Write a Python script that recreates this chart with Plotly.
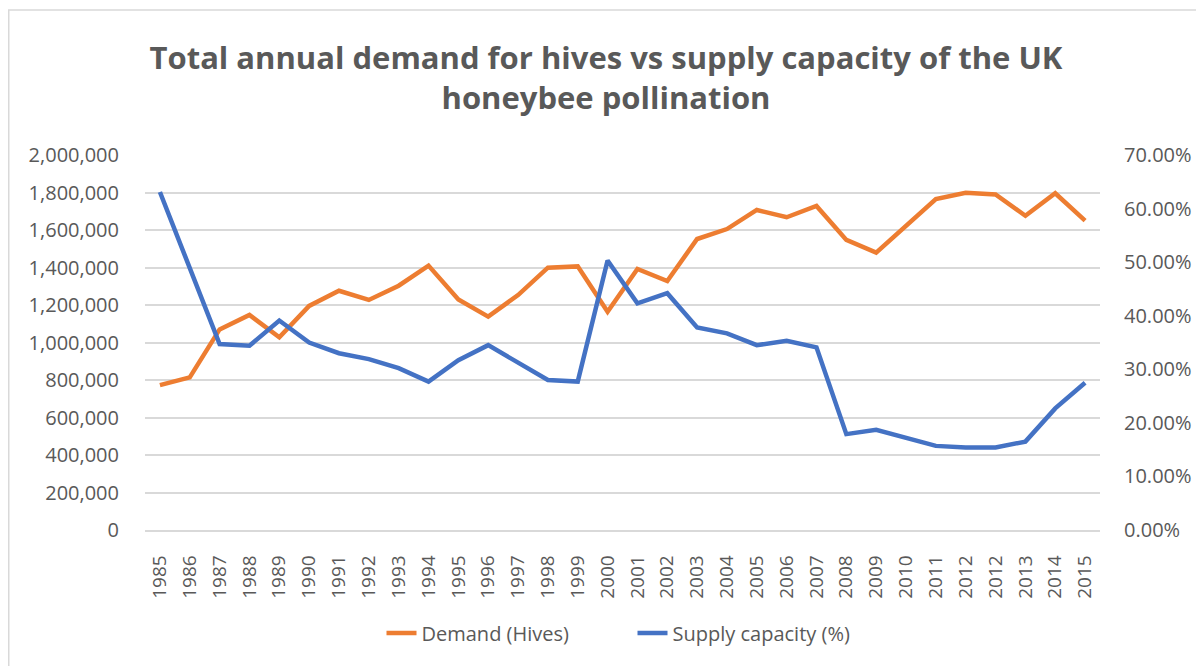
import plotly.graph_objects as go

years = ["1985", "1986", "1987", "1988", "1989", "1990", "1991", "1992", "1993", "1994",
         "1995", "1996", "1997", "1998", "1999", "2000", "2001", "2002", "2003", "2004",
         "2005", "2006", "2007", "2008", "2009", "2010", "2011", "2012", "2012", "2013",
         "2014", "2015"]
demand_hives = [773000, 814000, 1070000, 1147000, 1028000, 1195000, 1276000, 1227000, 1303000, 1410000,
                1230000, 1138000, 1253000, 1399000, 1406000, 1164000, 1392000, 1328000, 1552000, 1605000,
                1707000, 1668000, 1728000, 1547000, 1479000, 1621000, 1765000, 1799000, 1790000, 1676000,
                1796000, 1650000]
supply_capacity = [0.631, 0.489, 0.347, 0.344, 0.391, 0.350, 0.330, 0.319, 0.302, 0.277,
                   0.317, 0.345, 0.312, 0.280, 0.277, 0.503, 0.423, 0.442, 0.378, 0.367,
                   0.345, 0.353, 0.341, 0.179, 0.187, 0.171, 0.157, 0.154, 0.154, 0.165,
                   0.227, 0.275]
left_ticks = [0, 200000, 400000, 600000, 800000, 1000000, 1200000, 1400000, 1600000, 1800000, 2000000]
right_ticks = [0.0, 0.1, 0.2, 0.3, 0.4, 0.5, 0.6, 0.7]

x_pos = list(range(len(years)))
txt = "#595959"
grid = "#d9d9d9"

W, H = 1196, 658
ML, MR, MT, MB = 137, 104, 147, 136
PW, PH = W - ML - MR, H - MT - MB

fig = go.Figure()
fig.add_trace(go.Scatter(x=x_pos, y=demand_hives, mode="lines", name="Demand (Hives)",
                         line=dict(color="#ED7D31", width=4.5), yaxis="y"))
fig.add_trace(go.Scatter(x=x_pos, y=supply_capacity, mode="lines", name="Supply capacity (%)",
                         line=dict(color="#4472C4", width=4.5), yaxis="y2"))

fig.update_layout(
    width=W, height=H,
    paper_bgcolor="white", plot_bgcolor="white",
    margin=dict(l=ML, r=MR, t=MT, b=MB),
    font=dict(family="Open Sans", color=txt, size=20),
    title=dict(text="Total annual demand for hives vs supply capacity of the UK<br>honeybee pollination",
               x=0.5, xanchor="center", xref="container", yref="container", y=1 - 61 / H, yanchor="middle",
               font=dict(family="Open Sans", size=31, color=txt, weight="bold")),
    xaxis=dict(tickmode="array", tickvals=x_pos, ticktext=years, tickangle=-90,
               range=[-0.5, len(years) - 0.5], showgrid=False, showline=True, linecolor=grid,
               linewidth=1.5, ticks="", zeroline=False, ticklabelstandoff=16,
               tickfont=dict(size=19, color=txt)),
    yaxis=dict(range=[0, 2000000], tickmode="array", tickvals=left_ticks, tickformat=",",
               showgrid=True, gridcolor=grid, gridwidth=1.5, zeroline=False, ticks="",
               ticklabelstandoff=25, tickfont=dict(size=20, color=txt)),
    yaxis2=dict(range=[0, 0.7], overlaying="y", side="right", tickmode="array", tickvals=right_ticks,
                tickformat=".2%", showgrid=False, zeroline=False, ticks="",
                ticklabelstandoff=23, tickfont=dict(size=20, color=txt)),
    legend=dict(orientation="h", x=0.5 + 10 / PW, xanchor="center", y=-(625 - 522) / PH, yanchor="middle",
                font=dict(size=20, color=txt), entrywidth=206, entrywidthmode="pixels"),
    showlegend=True,
    shapes=[dict(type="rect", xref="paper", yref="paper",
                 x0=(0.75 - ML) / PW, x1=(1192 - ML) / PW, y0=-(H + 5 - 522) / PH, y1=(522 - 2) / PH,
                 line=dict(color="#d9d9d9", width=1.5), fillcolor="rgba(0,0,0,0)", layer="below")],
)

fig.write_html("out.html")
